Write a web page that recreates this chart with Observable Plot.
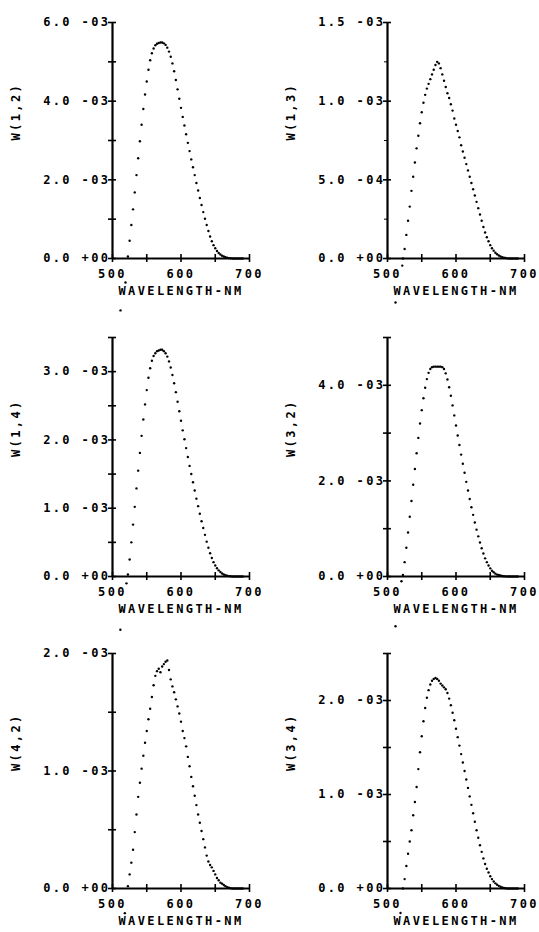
<!DOCTYPE html>
<html><head><meta charset="utf-8">
<script src="https://cdn.jsdelivr.net/npm/d3@7"></script>
<script src="https://cdn.jsdelivr.net/npm/@observablehq/plot@0.6"></script>
<style>
html,body{margin:0;padding:0;background:#fff;}
#root{position:relative;width:539px;height:932px;overflow:hidden;background:#fff;}
.panel{position:absolute;}
.panel svg{overflow:visible;background:transparent;}
.panel svg text{font-family:"DejaVu Sans Mono",monospace;font-weight:bold;font-size:12px;letter-spacing:2.4px;fill:#000;}
</style></head><body><div id="root"></div>
<script>
// ---- data (values in units of 1e-3) ----
const wavelengths = [522.5,525,527.5,530,532.5,535,537.5,540,542.5,545,
547.5,550,552.5,555,557.5,560,562.5,565,567.5,570,
572.5,575,577.5,580,582.5,585,587.5,590,592.5,595,
597.5,600,602.5,605,607.5,610,612.5,615,617.5,620,
622.5,625,627.5,630,632.5,635,637.5,640,642.5,645,
647.5,650,652.5,655,657.5,660,662.5,665,667.5,670,
672.5,675,677.5,680,682.5,685,687.5,690];

const xTicks = [500,550,600,650,700];
const xLabelTicks = [500,600,700];
const xTickLabels = ["500","600","700"];
const xTitle = "WAVELENGTH-NM";

const w12 = [0.05,0.45,0.85,1.25,1.68,2.12,2.55,2.98,3.40,3.80,
4.17,4.50,4.80,5.04,5.22,5.34,5.42,5.46,5.48,5.49,
5.49,5.47,5.43,5.36,5.26,5.13,4.96,4.76,4.54,4.30,
4.06,3.83,3.60,3.38,3.16,2.94,2.73,2.52,2.32,2.12,
1.92,1.73,1.54,1.36,1.18,1.01,0.85,0.70,0.56,0.44,
0.34,0.26,0.19,0.14,0.10,0.07,0.05,0.03,0.02,0.01,
0.005,0,0,0,0,0,0,0];
const w13 = [0.00,0.06,0.15,0.24,0.33,0.43,0.52,0.61,0.70,0.78,
0.86,0.93,0.99,1.04,1.08,1.11,1.14,1.17,1.20,1.23,
1.25,1.24,1.21,1.17,1.13,1.09,1.05,1.02,0.98,0.94,
0.89,0.85,0.81,0.77,0.72,0.68,0.64,0.60,0.56,0.52,
0.48,0.44,0.40,0.36,0.32,0.28,0.24,0.20,0.165,0.135,
0.11,0.085,0.065,0.05,0.037,0.027,0.019,0.013,0.008,0.005,
0.003,0.001,0,0,0,0,0,0];
const w14 = [0.03,0.25,0.50,0.76,1.02,1.29,1.55,1.81,2.06,2.30,
2.52,2.73,2.91,3.05,3.16,3.23,3.27,3.30,3.31,3.32,
3.32,3.30,3.27,3.22,3.15,3.06,2.95,2.83,2.70,2.56,
2.42,2.28,2.14,2.01,1.88,1.75,1.62,1.50,1.38,1.26,
1.14,1.03,0.92,0.81,0.71,0.61,0.51,0.42,0.34,0.27,
0.21,0.16,0.12,0.09,0.065,0.045,0.03,0.02,0.012,0.006,
0.003,0,0,0,0,0,0,0];
const w32 = [0.03,0.30,0.60,0.92,1.25,1.58,1.92,2.25,2.58,2.90,
3.20,3.48,3.73,3.95,4.13,4.26,4.34,4.38,4.39,4.39,
4.39,4.39,4.39,4.38,4.34,4.25,4.12,3.96,3.78,3.58,
3.37,3.16,2.95,2.75,2.55,2.36,2.17,1.98,1.80,1.62,
1.45,1.29,1.13,0.98,0.84,0.71,0.59,0.48,0.38,0.30,
0.23,0.17,0.12,0.09,0.06,0.04,0.03,0.02,0.01,0.006,
0.003,0,0,0,0,0,0,0];
const w42 = [0.02,0.12,0.22,0.33,0.48,0.63,0.78,0.90,1.02,1.13,
1.24,1.34,1.44,1.53,1.63,1.73,1.81,1.85,1.87,1.84,
1.89,1.91,1.93,1.94,1.86,1.78,1.72,1.67,1.61,1.55,
1.49,1.42,1.34,1.28,1.21,1.12,1.04,0.95,0.87,0.79,
0.71,0.63,0.56,0.49,0.42,0.35,0.28,0.23,0.20,0.18,
0.15,0.12,0.09,0.07,0.05,0.04,0.03,0.02,0.012,0.007,
0.003,0,0,0,0,0,0,0];
const w34 = [0.00,0.10,0.24,0.37,0.50,0.62,0.78,0.92,1.08,1.27,
1.45,1.62,1.78,1.92,2.03,2.11,2.17,2.21,2.23,2.24,
2.23,2.21,2.18,2.16,2.14,2.12,2.08,2.02,1.95,1.87,
1.79,1.70,1.61,1.52,1.43,1.34,1.25,1.16,1.07,0.98,
0.89,0.80,0.71,0.62,0.54,0.46,0.39,0.32,0.26,0.21,
0.17,0.13,0.10,0.075,0.055,0.04,0.028,0.018,0.011,0.006,
0.003,0,0,0,0,0,0,0];

// isolated points plotted below the zero line
const low12Wl = [511.7,519], low12 = [-1.32,-0.61];
const low13Wl = [511.7,521.5], low13 = [-0.28,-0.045];
const low14Wl = [511.5,513,520.4], low14 = [-0.78,-0.50,-0.10];
const low32Wl = [511.7,520.4], low32 = [-1.04,-0.10];
const low42Wl = [518], low42 = [-0.21];
const low34Wl = [519], low34 = [-0.26];

const labels = ["W(1,2)","W(1,3)","W(1,4)","W(3,2)","W(4,2)","W(3,4)"];

const yMax12 = 6,   yTicks12 = [0,1,2,3,4,5,6],           yLab12 = [0,2,4,6],     yTxt12 = ["0.0 +00","2.0 -03","4.0 -03","6.0 -03"];
const yMax13 = 1.5, yTicks13 = [0,0.5,1,1.5],              yLab13 = [0,0.5,1,1.5], yTxt13 = ["0.0 +00","5.0 -04","1.0 -03","1.5 -03"];
const yMinor13 = [0.25,0.75,1.25];
const yMax14 = 3.5, yTicks14 = [0,0.5,1,1.5,2,2.5,3,3.5], yLab14 = [0,1,2,3],     yTxt14 = ["0.0 +00","1.0 -03","2.0 -03","3.0 -03"];
const yMax32 = 5,   yTicks32 = [0,1,2,3,4,5],             yLab32 = [0,2,4],       yTxt32 = ["0.0 +00","2.0 -03","4.0 -03"];
const yMax42 = 2,   yTicks42 = [0,0.5,1,1.5,2],           yLab42 = [0,1,2],       yTxt42 = ["0.0 +00","1.0 -03","2.0 -03"];
const yMax34 = 2.5, yTicks34 = [0,0.5,1,1.5,2,2.5],       yLab34 = [0,1,2],       yTxt34 = ["0.0 +00","1.0 -03","2.0 -03"];

// ---- layout ----
const panels = [
  {label: labels[0], v: w12, lw: low12Wl, lv: low12, yMax: yMax12, yTicks: yTicks12, yMinor: [], yLab: yLab12, yTxt: yTxt12, col: 0, row: 0},
  {label: labels[1], v: w13, lw: low13Wl, lv: low13, yMax: yMax13, yTicks: yTicks13, yMinor: yMinor13, yLab: yLab13, yTxt: yTxt13, col: 1, row: 0},
  {label: labels[2], v: w14, lw: low14Wl, lv: low14, yMax: yMax14, yTicks: yTicks14, yMinor: [], yLab: yLab14, yTxt: yTxt14, col: 0, row: 1},
  {label: labels[3], v: w32, lw: low32Wl, lv: low32, yMax: yMax32, yTicks: yTicks32, yMinor: [], yLab: yLab32, yTxt: yTxt32, col: 1, row: 1},
  {label: labels[4], v: w42, lw: low42Wl, lv: low42, yMax: yMax42, yTicks: yTicks42, yMinor: [], yLab: yLab42, yTxt: yTxt42, col: 0, row: 2},
  {label: labels[5], v: w34, lw: low34Wl, lv: low34, yMax: yMax34, yTicks: yTicks34, yMinor: [], yLab: yLab34, yTxt: yTxt34, col: 1, row: 2}
];
const cols = [{left: 0, width: 270, ml: 112, mr: 21}, {left: 270, width: 269, ml: 117, mr: 15}];
const rows = [{top: 0, height: 310, mt: 22, mb: 52}, {top: 310, height: 310, mt: 27, mb: 44}, {top: 621, height: 311, mt: 32, mb: 44}];

const root = document.getElementById("root");
for (const p of panels) {
  const c = cols[p.col], r = rows[p.row];
  const pts = p.v.map((v, i) => ({wl: wavelengths[i], v}));
  const low = p.lw.map((w, i) => ({wl: w, v: p.lv[i]}));
  const labMap = new Map(p.yLab.map((t, i) => [t, p.yTxt[i]]));
  const xMap = new Map(xLabelTicks.map((t, i) => [t, xTickLabels[i]]));
  const svg = Plot.plot({
    width: c.width, height: r.height,
    marginLeft: c.ml, marginRight: c.mr, marginTop: r.mt, marginBottom: r.mb,
    x: {domain: [500, 700], label: null},
    y: {domain: [0, p.yMax], label: null},
    style: {background: "transparent", overflow: "visible"},
    marks: [
      Plot.ruleX([500], {stroke: "black", strokeWidth: 2.2}),
      Plot.ruleY([0], {stroke: "black", strokeWidth: 2.2}),
      Plot.axisX({ticks: xTicks, tickSize: 8, dy: -4, tickFormat: () => "", strokeWidth: 1.6, label: null}),
      Plot.axisX({ticks: xLabelTicks, tickSize: 0, tickPadding: 11, tickFormat: d => xMap.get(d), label: null}),
      Plot.axisY({ticks: p.yTicks, tickSize: 8, dx: 4, tickFormat: () => "", strokeWidth: 1.6, label: null}),
      Plot.axisY({ticks: p.yMinor, tickSize: 3, tickFormat: () => "", strokeWidth: 1, label: null}),
      Plot.axisY({ticks: p.yLab, tickSize: 0, tickPadding: 2, tickFormat: d => labMap.get(d), label: null}),
      Plot.text([xTitle], {frameAnchor: "bottom", dy: 36}),
      Plot.text([p.label], {frameAnchor: "left", rotate: -90, dx: -96}),
      Plot.dot(pts, {x: "wl", y: "v", r: 1.2, fill: "black", stroke: null}),
      Plot.dot(low, {x: "wl", y: "v", r: 1.2, fill: "black", stroke: null})
    ]
  });
  const div = document.createElement("div");
  div.className = "panel";
  div.style.left = c.left + "px";
  div.style.top = r.top + "px";
  div.appendChild(svg);
  root.appendChild(div);
}
</script></body></html>
